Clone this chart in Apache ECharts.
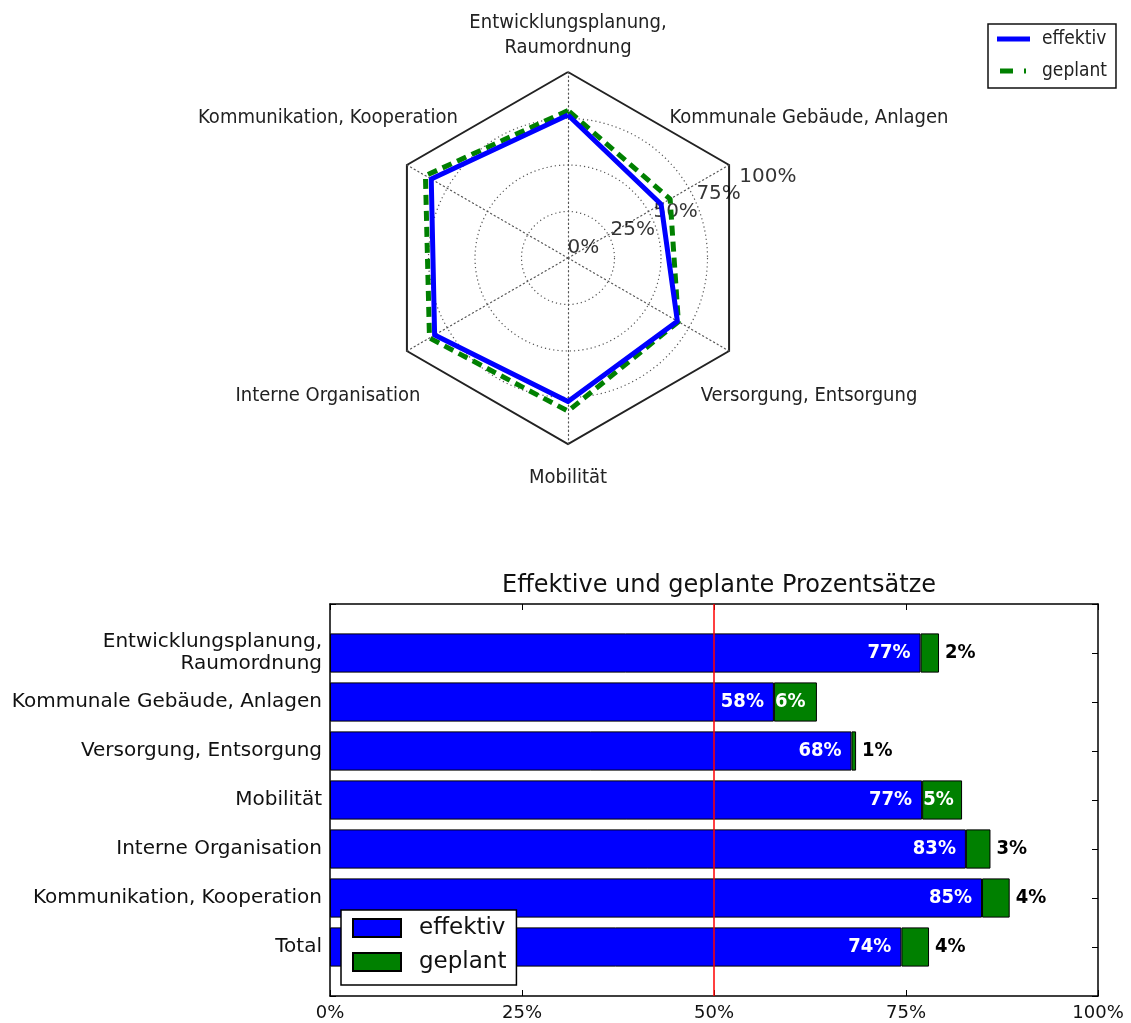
<!DOCTYPE html>
<html><head><meta charset="utf-8">
<script src="https://cdn.jsdelivr.net/npm/echarts@6/dist/echarts.min.js"></script>
<style>html,body{margin:0;padding:0;background:#fff}#c{width:1131px;height:1023px}</style>
</head><body><div id="c"></div>
<script>
// ---- data ----
const categories = ['Entwicklungsplanung,\nRaumordnung', 'Kommunale Gebäude, Anlagen', 'Versorgung, Entsorgung', 'Mobilität', 'Interne Organisation', 'Kommunikation, Kooperation', 'Total'];
const effektiv = [76.9, 57.8, 67.9, 77.1, 82.8, 84.9, 74.4];
const geplant = [2.4, 5.6, 0.6, 5.2, 3.2, 3.6, 3.6];
const radarTicks = [0, 25, 50, 75, 100];
const xTicks = [0, 25, 50, 75, 100];
const referenceLine = 50;
const seriesNames = ['effektiv', 'geplant'];
const barTitle = 'Effektive und geplante Prozentsätze';

// ---- layout / style ----
const CX = 568, CY = 258, R = 186;
const condensed = "'DejaVu Sans Condensed', 'DejaVu Sans'";
const BLUE = '#0000ff', GREEN = '#008000';

// radar axes: first six categories, drawn clockwise from top
const radarCats = categories.slice(0, 6);
const order = [0, 5, 4, 3, 2, 1];
const indicators = order.map(i => ({ name: radarCats[i], min: 0, max: 100 }));
const radarEff = order.map(i => effektiv[i]);
const radarPlan = order.map(i => +(effektiv[i] + geplant[i]).toFixed(1));

// radar category label positions (offset from centre)
const radarLabelOffsets = [[0, -223], [241, -140], [241, 138], [0, 220], [-240, 138], [-240, -140]];
const graphics = radarCats.map((c, i) => ({
  type: 'text', silent: true,
  x: CX + radarLabelOffsets[i][0], y: CY + radarLabelOffsets[i][1],
  style: { text: c, align: 'center', verticalAlign: 'middle', fontSize: 20, lineHeight: 25,
           fontFamily: condensed, fill: '#222' }
}));

const chart = echarts.init(document.getElementById('c'), null, { renderer: 'canvas' });
const pct = v => Math.round(v) + '%';
const frameLine = { show: true, onZero: false, lineStyle: { color: '#000', width: 1.5 } };
const inTick = { show: true, inside: true, length: 6, interval: 0, lineStyle: { color: '#000' } };

chart.setOption({
  animation: false,
  backgroundColor: '#fff',
  title: {
    text: barTitle, left: 714, top: 569, textAlign: 'center',
    textStyle: { fontSize: 24, fontWeight: 'normal', fontFamily: 'DejaVu Sans', color: '#111' }
  },
  graphic: graphics,
  radar: [
    {
      center: [CX, CY], radius: R, startAngle: 90, shape: 'polygon', splitNumber: 1,
      indicator: indicators,
      axisName: { show: false }, axisLine: { show: false }, axisTick: { show: false }, axisLabel: { show: false },
      splitArea: { show: false },
      splitLine: { lineStyle: { color: '#222', width: 2 } }
    },
    {
      center: [CX, CY], radius: R, startAngle: 90, shape: 'circle', splitNumber: 4,
      indicator: indicators,
      axisName: { show: false }, axisTick: { show: false }, axisLabel: { show: false },
      splitArea: { show: false },
      axisLine: { lineStyle: { color: '#555', width: 1.2, type: [1.2, 3] } },
      splitLine: { lineStyle: { color: ['#555', '#555', '#555', '#555', 'rgba(0,0,0,0)'], width: 1.2, type: [1.2, 3] } }
    }
  ],
  polar: { center: [CX, CY], radius: R },
  angleAxis: { type: 'value', min: 0, max: 360, startAngle: 22.5, show: false },
  radiusAxis: { type: 'value', min: 0, max: 100, show: false },
  grid: { left: 330, right: 33, top: 604, bottom: 27 },
  xAxis: [
    {
      type: 'value', min: 0, max: 100, interval: 25, position: 'bottom',
      axisLine: frameLine, axisTick: inTick,
      axisLabel: { formatter: '{value}%', fontSize: 18, fontFamily: 'DejaVu Sans', color: '#111', margin: 8 },
      splitLine: { show: false }
    },
    {
      type: 'value', min: 0, max: 100, interval: 25, position: 'top',
      axisLine: frameLine, axisTick: inTick,
      axisLabel: { show: false }, splitLine: { show: false }
    }
  ],
  yAxis: [
    {
      type: 'category', inverse: true, boundaryGap: false, position: 'left', data: [''].concat(categories, ['']),
      axisLine: frameLine, axisTick: inTick,
      axisLabel: { interval: 0, fontSize: 20, lineHeight: 22, fontFamily: 'DejaVu Sans', color: '#111', margin: 8 },
      splitLine: { show: false }
    },
    {
      type: 'category', inverse: true, boundaryGap: false, position: 'right', data: [''].concat(categories, ['']),
      axisLine: frameLine, axisTick: inTick,
      axisLabel: { show: false }, splitLine: { show: false }
    }
  ],
  legend: [
    {
      left: 988, top: 24, orient: 'vertical', selectedMode: false,
      data: [
        { name: 'radar-' + seriesNames[0], icon: 'rect', itemStyle: { color: BLUE } },
        { name: 'radar-' + seriesNames[1], icon: 'path://M0,0 M3,0H16V5H3Z M27,0H29V5H27Z M33,5', itemStyle: { color: GREEN } }
      ],
      formatter: n => n.replace('radar-', ''),
      itemWidth: 33, itemHeight: 5, itemGap: 10,
      textStyle: { fontSize: 19, fontFamily: condensed, color: '#222', lineHeight: 22, padding: [0, 0, 0, 7] },
      borderColor: '#111', borderWidth: 1.5, backgroundColor: '#fff', padding: [4, 9, 6, 9]
    },
    {
      left: 341, top: 910, orient: 'vertical', selectedMode: false, z: 10,
      data: [{ name: seriesNames[0], icon: 'rect' }, { name: seriesNames[1], icon: 'rect' }],
      itemWidth: 48, itemHeight: 18, itemGap: 10,
      textStyle: { fontSize: 23, fontFamily: 'DejaVu Sans', color: '#111', lineHeight: 24, padding: [0, 0, 0, 13] },
      borderColor: '#000', borderWidth: 1.5, backgroundColor: '#fff', padding: [6, 10, 11, 11]
    }
  ],
  series: [
    {
      type: 'radar', radarIndex: 1, symbol: 'none', silent: true, z: 3,
      data: [
        { name: 'radar-' + seriesNames[1], value: radarPlan, symbol: 'none',
          lineStyle: { color: GREEN, width: 5, type: [10, 6] }, itemStyle: { color: GREEN } },
        { name: 'radar-' + seriesNames[0], value: radarEff, symbol: 'none',
          lineStyle: { color: BLUE, width: 5, type: 'solid' }, itemStyle: { color: BLUE } }
      ]
    },
    {
      type: 'scatter', coordinateSystem: 'polar', silent: true, symbolSize: 1,
      itemStyle: { color: 'rgba(0,0,0,0)' },
      data: radarTicks.map(t => [t, 0]),
      label: { show: true, position: [0, 0], align: 'left', verticalAlign: 'bottom',
               formatter: p => p.value[0] + '%', fontSize: 20, fontFamily: 'DejaVu Sans', color: '#000' }
    },
    {
      type: 'bar', name: seriesNames[0], xAxisIndex: 0, yAxisIndex: 0, stack: 't', barWidth: '80%',
      data: ['-'].concat(effektiv, ['-']),
      itemStyle: { color: BLUE, borderColor: '#000', borderWidth: 1 },
      label: { show: true, position: 'insideRight', distance: 10, color: '#fff', fontWeight: 'bold', fontSize: 20,
               fontFamily: condensed, formatter: p => pct(p.value) },
      markLine: { silent: true, symbol: 'none', z: 6, label: { show: false },
                  lineStyle: { color: '#ff0000', width: 1.5, type: 'solid' }, data: [{ xAxis: referenceLine }] }
    },
    {
      type: 'bar', name: seriesNames[1], xAxisIndex: 0, yAxisIndex: 0, stack: 't', barWidth: '80%',
      data: ['-'].concat(geplant.map(v => ({
        value: v,
        label: v >= 5 ? { position: 'insideLeft', distance: 1, color: '#fff' } : { position: 'right', distance: 6, color: '#000' }
      })), ['-']),
      itemStyle: { color: GREEN, borderColor: '#000', borderWidth: 1 },
      label: { show: true, fontWeight: 'bold', fontSize: 20, fontFamily: condensed, formatter: p => pct(p.value) }
    }
  ]
});
</script>
</body></html>
